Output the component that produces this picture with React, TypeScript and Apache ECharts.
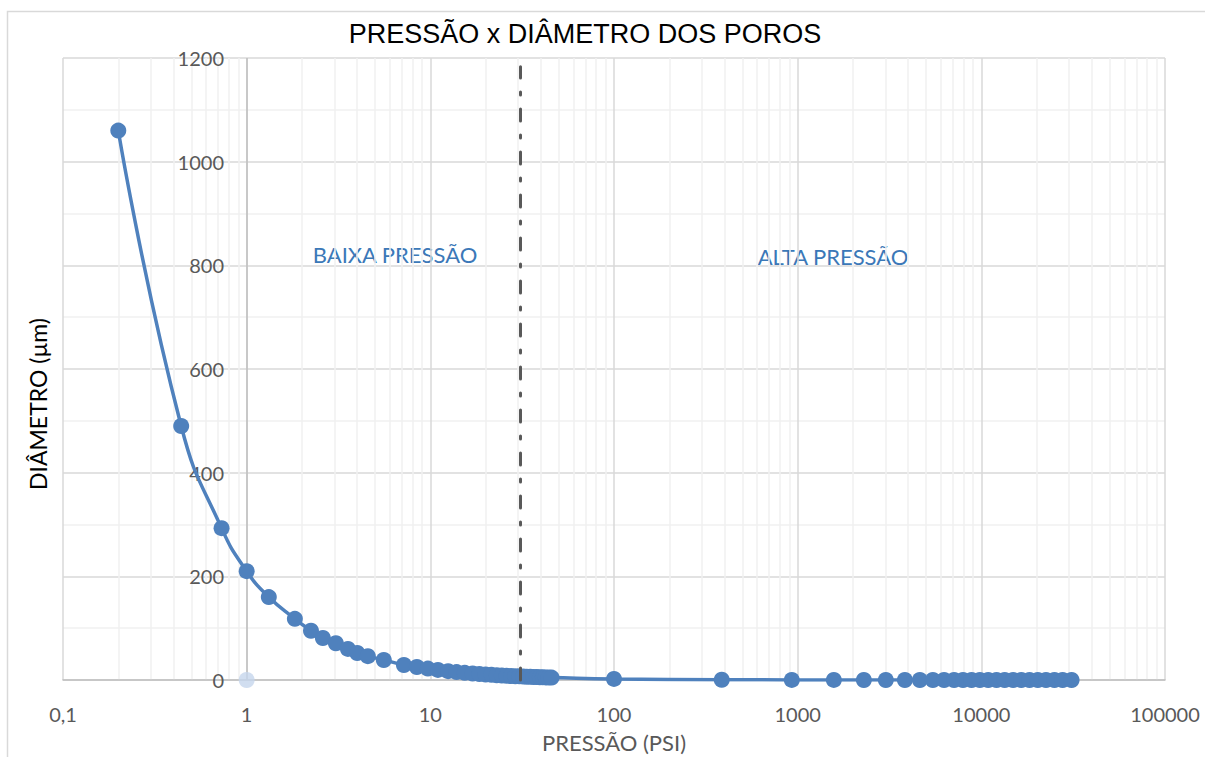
import React, { useEffect, useRef } from "react";
import * as echarts from "echarts";

// Pressure (psi) and pore diameter (µm)
const pressure: number[] = [
  0.2, 0.44, 0.73, 1.0, 1.32, 1.83, 2.24, 2.6, 3.06, 3.56, 4.0, 4.57, 5.58, 7.18, 8.45, 9.7,
  11.0, 12.5, 13.9, 15.4, 17.0, 18.5, 20, 21.5, 23, 24.5, 26, 27.5, 29, 30.5, 32, 33.5, 35,
  36.5, 38, 39.5, 41, 42.5, 44, 45.7,
  100, 386, 929, 1574, 2293, 3020, 3835, 4627, 5448, 6266, 7103, 7947, 8850, 9820, 10900,
  12100, 13400, 14900, 16500, 18300, 20300, 22500, 25000, 27700, 31000,
];
const diameter: number[] = [
  1060, 490, 293, 210, 160, 118, 95, 81, 71, 60, 52, 46, 38.6, 29, 25, 22,
  19.4, 17, 15.3, 13.8, 12.5, 11.5, 10.6, 9.9, 9.2, 8.7, 8.2, 7.7, 7.3, 7.0, 6.6, 6.3, 6.1,
  5.8, 5.6, 5.4, 5.2, 5.0, 4.8, 4.6,
  2.1, 0.55, 0.23, 0.14, 0.09, 0.07, 0.055, 0.046, 0.039, 0.034, 0.03, 0.027, 0.024, 0.022, 0.02,
  0.018, 0.016, 0.014, 0.013, 0.012, 0.011, 0.0095, 0.0085, 0.0077, 0.0069,
];
// light marker at (1, 0)
const extraPoint: number[][] = [[1, 0]];

const boundaryPressure = 31; // dash-dot boundary between low and high pressure
const boundaryTop = 1183;

const decades: number[] = [0.1, 1, 10, 100, 1000, 10000];
const yTicks = { min: 0, max: 1200, interval: 200 };

export default function App() {
  const ref = useRef<HTMLDivElement>(null);

  useEffect(() => {
    if (!ref.current) return;
    const chart = echarts.init(ref.current, undefined, { renderer: "svg" });

    const minorX: number[] = [];
    decades.forEach((d) => {
      for (let k = 2; k <= 9; k++) minorX.push(d * k);
    });

    const labelColor = "#595959";
    const font = "Lato, 'Noto Sans', sans-serif";

    chart.setOption({
      animation: false,
      title: {
        text: "PRESSÃO x DIÂMETRO DOS POROS",
        left: 580,
        top: 15,
        textAlign: "center",
        textStyle: {
          fontFamily: "'Liberation Sans', Arial, sans-serif",
          fontSize: 27,
          fontWeight: "normal",
          color: "#000000",
        },
      },
      grid: {
        left: 63,
        right: 40,
        top: 58,
        bottom: 77,
        containLabel: false,
        outerBoundsMode: "none",
      },
      xAxis: {
        type: "log",
        logBase: 10,
        min: 0.1,
        max: 100000,
        splitNumber: 6,
        name: "PRESSÃO (PSI)",
        nameLocation: "middle",
        nameGap: 51,
        nameTextStyle: { fontFamily: font, fontSize: 22, color: labelColor },
        axisLine: { show: true, lineStyle: { color: "#bfbfbf", width: 1.5 } },
        axisTick: { show: false },
        axisLabel: {
          margin: 24,
          fontFamily: font,
          fontSize: 20,
          color: labelColor,
          formatter: (v: number) => (v < 1 ? "0,1" : String(Math.round(v))),
        },
        splitLine: { show: true, lineStyle: { color: "#d9d9d9", width: 1.5 } },
      },
      yAxis: {
        type: "value",
        min: yTicks.min,
        max: yTicks.max,
        interval: yTicks.interval,
        axisLine: { show: false },
        axisTick: { show: false },
        axisLabel: {
          margin: -161,
          fontFamily: font,
          fontSize: 20,
          color: labelColor,
          formatter: (v: number) => String(v),
        },
        splitLine: { show: true, lineStyle: { color: "#d9d9d9", width: 1.5 } },
        minorTick: { show: false, splitNumber: 2 },
        minorSplitLine: { show: true, lineStyle: { color: "#f0f0f0", width: 1.5 } },
      },
      graphic: [
        {
          type: "rect",
          shape: { x: 7.5, y: 11.5, width: 1300, height: 900 },
          style: { fill: "none", stroke: "#d9d9d9", lineWidth: 1.5 },
          silent: true,
          z: -10,
        },
        {
          type: "text",
          x: 38,
          y: 404,
          rotation: Math.PI / 2,
          style: {
            text: "DIÂMETRO (µm)",
            fontFamily: font,
            fontSize: 23,
            fill: "#000000",
            align: "center",
            verticalAlign: "middle",
          },
        },
        {
          type: "text",
          x: 395,
          y: 254,
          style: {
            text: "BAIXA PRESSÃO",
            fontFamily: font,
            fontSize: 22,
            fill: "#3b78b8",
            align: "center",
            verticalAlign: "middle",
          },
        },
        {
          type: "text",
          x: 833,
          y: 256,
          style: {
            text: "ALTA PRESSÃO",
            fontFamily: font,
            fontSize: 22,
            fill: "#3b78b8",
            align: "center",
            verticalAlign: "middle",
          },
        },
      ],
      series: [
        {
          type: "line",
          data: [],
          z: 0,
          silent: true,
          markLine: {
            z: 0,
            silent: true,
            symbol: ["none", "none"],
            label: { show: false },
            animation: false,
            lineStyle: { color: "#f0f0f0", width: 1.5, type: "solid" },
            data: minorX.map((v) => ({ xAxis: v })),
          },
        },
        {
          type: "line",
          data: [],
          z: 1,
          silent: true,
          markLine: {
            z: 1,
            silent: true,
            symbol: ["none", "none"],
            label: { show: false },
            animation: false,
            lineStyle: { color: "#bfbfbf", width: 1.5, type: "solid" },
            data: [{ xAxis: 1 }],
          },
        },
        {
          type: "line",
          data: [],
          z: 6,
          silent: true,
          markLine: {
            z: 6,
            silent: true,
            symbol: ["none", "none"],
            label: { show: false },
            animation: false,
            lineStyle: { color: "#595959", width: 3, type: [12, 14, 3, 14], cap: "round" },
            data: [
              [
                { coord: [boundaryPressure, 0] },
                { coord: [boundaryPressure, boundaryTop] },
              ],
            ],
          },
        },
        {
          type: "line",
          data: pressure.map((p, i) => [p, diameter[i]]),
          smooth: true,
          symbol: "circle",
          symbolSize: 16,
          z: 3,
          itemStyle: { color: "#4f81bd" },
          lineStyle: { color: "#4f81bd", width: 3.5 },
        },
        {
          type: "scatter",
          data: extraPoint,
          symbol: "circle",
          symbolSize: 16,
          z: 4,
          itemStyle: { color: "#c5d6ec" },
        },
      ],
    });

    return () => chart.dispose();
  }, []);

  return (
    <div
      ref={ref}
      style={{ position: "fixed", left: 0, top: 0, width: 1205, height: 757, background: "#ffffff" }}
    />
  );
}
